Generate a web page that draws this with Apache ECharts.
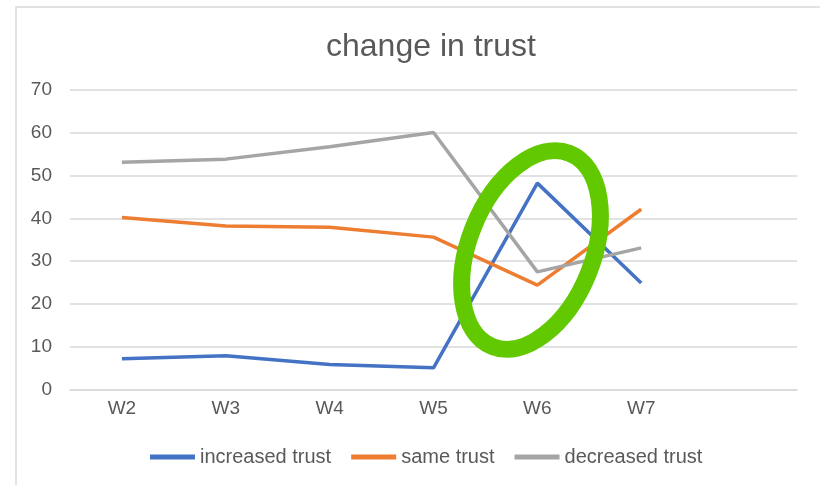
<!DOCTYPE html>
<html>
<head>
<meta charset="utf-8">
<title>change in trust</title>
<script src="https://cdn.jsdelivr.net/npm/echarts@6/dist/echarts.min.js"></script>
<style>
  html, body { margin: 0; padding: 0; background: #fff; }
  #chart { width: 820px; height: 485px; }
</style>
</head>
<body>
<div id="chart"></div>
<script>
// weeks (last slot is empty, the plot leaves room for it)
var weeks = ['W2', 'W3', 'W4', 'W5', 'W6', 'W7', ''];
var increasedTrust = [7.2, 7.9, 5.9, 5.1, 48.2, 24.9];
var sameTrust = [40.2, 38.2, 37.9, 35.6, 24.4, 42.1];
var decreasedTrust = [53.1, 53.8, 56.7, 60.0, 27.5, 33.1];

var font = 'Liberation Sans, Arial, Helvetica, sans-serif';
var textColor = '#595959';

var chart = echarts.init(document.getElementById('chart'));

function lineSeries(name, data, color) {
  return {
    name: name,
    type: 'line',
    data: data,
    showSymbol: false,
    symbol: 'none',
    lineStyle: { color: color, width: 3.5 },
    itemStyle: { color: color },
    animation: false
  };
}

chart.setOption({
  animation: false,
  title: {
    text: 'change in trust',
    left: 321,
    top: 26,
    textStyle: { fontFamily: font, fontSize: 32, fontWeight: 'normal', color: textColor }
  },
  legend: {
    left: 145,
    top: 442,
    itemWidth: 45,
    itemHeight: 5,
    itemGap: 20,
    icon: 'rect',
    textStyle: { fontFamily: font, fontSize: 20, color: textColor },
    data: ['increased trust', 'same trust', 'decreased trust']
  },
  grid: { left: 70, right: 23, top: 89.7, bottom: 95.3, containLabel: false },
  xAxis: {
    type: 'category',
    data: weeks,
    boundaryGap: true,
    axisLine: { lineStyle: { color: '#d9d9d9', width: 1.5 } },
    axisTick: { show: false },
    axisLabel: { fontFamily: font, fontSize: 19, color: textColor, margin: 10 }
  },
  yAxis: {
    type: 'value',
    min: 0,
    max: 70,
    interval: 10,
    axisLine: { show: false },
    axisTick: { show: false },
    axisLabel: { fontFamily: font, fontSize: 19, color: textColor, margin: 18 },
    splitLine: { lineStyle: { color: '#d9d9d9', width: 1.5 } }
  },
  series: [
    lineSeries('increased trust', increasedTrust, '#4472C4'),
    lineSeries('same trust', sameTrust, '#ED7D31'),
    lineSeries('decreased trust', decreasedTrust, '#A5A5A5')
  ],
  graphic: [
    {
      // chart frame
      type: 'rect',
      shape: { x: 16, y: 7, width: 900, height: 600 },
      style: { fill: 'none', stroke: '#d9d9d9', lineWidth: 1.5 },
      silent: true
    },
    {
      // hand drawn green circle around W6
      type: 'ellipse',
      x: 531,
      y: 250,
      rotation: -0.38,
      shape: { cx: 0, cy: 0, rx: 62, ry: 104 },
      style: { fill: 'none', stroke: '#62C900', lineWidth: 17 },
      z: 100,
      silent: true
    }
  ]
});
</script>
</body>
</html>
